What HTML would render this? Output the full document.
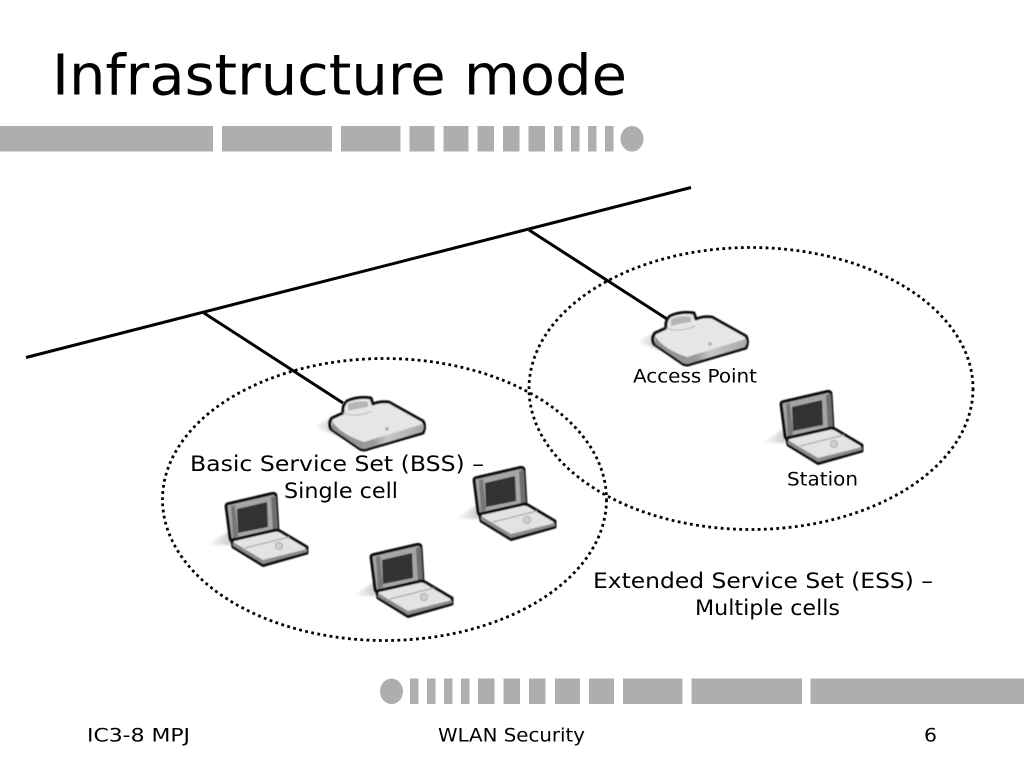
<!DOCTYPE html>
<html><head><meta charset="utf-8"><style>
html,body{margin:0;padding:0;background:#fff;width:1024px;height:768px;overflow:hidden}
svg{display:block}
text{font-family:"DejaVu Sans","Liberation Sans",sans-serif;fill:#000}
</style></head><body>
<svg width="1024" height="768" viewBox="0 0 1024 768" xmlns="http://www.w3.org/2000/svg">
<defs>
<filter id="soft" x="-30%" y="-30%" width="160%" height="160%"><feGaussianBlur stdDeviation="0.45"/></filter>
<filter id="softer" x="-30%" y="-30%" width="160%" height="160%"><feGaussianBlur stdDeviation="1.2"/></filter>
<linearGradient id="sh" x1="0" x2="1" y1="0" y2="0"><stop offset="0" stop-color="#fff"/><stop offset="1" stop-color="#bbb"/></linearGradient>
<linearGradient id="front" x1="0" x2="1" y1="0" y2="0"><stop offset="0" stop-color="#8e8e8e"/><stop offset=".45" stop-color="#9a9a9a"/><stop offset=".6" stop-color="#c8c8c8"/><stop offset="1" stop-color="#a8a8a8"/></linearGradient>
<symbol id="lap" overflow="visible" width="1" height="1">
  <polygon points="-18,53 9,36 14,53" fill="url(#sh)" filter="url(#softer)"/>
  <g filter="url(#soft)">
  <path d="M1 14 Q1 12 4 11.500 L47 1.500 Q51 1 51 4 L53 39 L8 50 Q5 48 5 45 Z" fill="#a6a6a6" stroke="#111" stroke-width="3" stroke-linejoin="round"/>
  <polygon points="46,5 51,4 53,38 48,40" fill="#6e6e6e"/>
  <polygon points="6,14 10,13 13,44 8,47" fill="#777"/>
  <polygon points="12,17 42,10 43,35 13,41" fill="#333"/>
  <path d="M7 48 L51 38 Q53 38 55 39 L82 55 L82 61 L38 73.500 L8 55 Z" fill="#e3e3e3" stroke="#111" stroke-width="3" stroke-linejoin="round"/>
  <polygon points="8,50 38,68 82,57 82,60 38,72 8,54" fill="#8c8c8c"/>
  <path d="M20 56 L64 45" stroke="#aaa" stroke-width="1.2"/>
  <circle cx="54" cy="54" r="3.500" fill="#d0d0d0" stroke="#aaa"/>
  </g>
</symbol>
<symbol id="ap" overflow="visible" width="1" height="1">
  <polygon points="-17,31 4,20 14,42" fill="url(#sh)" filter="url(#softer)"/>
  <g filter="url(#soft)">
  <path d="M1 33 Q-2 27 2 22 L13 17 Q12 9 17 5 Q28 0 41 2 L43 8 Q50 5 59 6 L93 25 Q96 30 93 37 L38 53 Q34 55 30 53 Z" fill="#e6e6e6" stroke="#111" stroke-width="3" stroke-linejoin="round"/>
  <path d="M2 25 Q10 38 34 46 L93 28 Q95 31 92 36 L38 52 Q34 54 30 52 L2 33 Z" fill="url(#front)"/>
  <path d="M18 8 Q28 4 38 6 L38 11 Q28 12 18 15 Z" fill="#b5b5b5"/>
  <path d="M13 17 Q26 22 42 15" stroke="#bbb" stroke-width="1" fill="none"/>
  <circle cx="57" cy="33" r="1.800" fill="#aaa"/>
  </g>
</symbol>
</defs>

<text x="52" y="94.500" font-size="56" textLength="575" lengthAdjust="spacingAndGlyphs">Infrastructure mode</text>

<g fill="#aeaeae">
<rect x="0" y="126" width="213" height="25.500"/>
<rect x="222" y="126" width="110" height="25.500"/>
<rect x="341" y="126" width="59.500" height="25.500"/>
<rect x="409.500" y="126" width="25" height="25.500"/>
<rect x="443.500" y="126" width="25" height="25.500"/>
<rect x="477.500" y="126" width="16.500" height="25.500"/>
<rect x="503" y="126" width="16.500" height="25.500"/>
<rect x="528.500" y="126" width="16.500" height="25.500"/>
<rect x="554" y="126" width="8.500" height="25.500"/>
<rect x="571" y="126" width="8.500" height="25.500"/>
<rect x="588" y="126" width="8.500" height="25.500"/>
<rect x="605" y="126" width="8.500" height="25.500"/>
<ellipse cx="632" cy="138.800" rx="11.500" ry="12.800"/>

<ellipse cx="391.500" cy="691.300" rx="11.500" ry="12.800"/>
<rect x="410" y="678.500" width="8.500" height="25.500"/>
<rect x="427" y="678.500" width="8.500" height="25.500"/>
<rect x="444" y="678.500" width="8.500" height="25.500"/>
<rect x="461" y="678.500" width="8.500" height="25.500"/>
<rect x="478" y="678.500" width="16.500" height="25.500"/>
<rect x="503.500" y="678.500" width="16.500" height="25.500"/>
<rect x="529" y="678.500" width="16.500" height="25.500"/>
<rect x="555" y="678.500" width="25" height="25.500"/>
<rect x="589" y="678.500" width="25" height="25.500"/>
<rect x="623" y="678.500" width="59.500" height="25.500"/>
<rect x="691.500" y="678.500" width="110.500" height="25.500"/>
<rect x="810.500" y="678.500" width="213.500" height="25.500"/>
</g>

<g stroke="#000" stroke-width="3" fill="none">
<line x1="26" y1="357.500" x2="691" y2="187.500"/>
<line x1="204" y1="313" x2="343" y2="403"/>
<line x1="529" y1="230" x2="667" y2="319"/>
</g>
<g fill="none" stroke="#000" stroke-width="2.800" stroke-dasharray="2.800 3.400">
<ellipse cx="384.500" cy="499.500" rx="222" ry="141"/>
<ellipse cx="751" cy="388.500" rx="222" ry="141"/>
</g>

<use href="#ap" x="653" y="311"/>
<use href="#ap" x="330" y="396"/>
<use href="#lap" x="780" y="390"/>
<use href="#lap" x="225" y="492"/>
<use href="#lap" x="473" y="466"/>
<use href="#lap" x="370" y="543"/>

<text x="633" y="382.500" font-size="18.500" textLength="124" lengthAdjust="spacingAndGlyphs">Access Point</text>
<text x="787" y="485.500" font-size="18.500" textLength="71" lengthAdjust="spacingAndGlyphs">Station</text>
<text x="190" y="471" font-size="21.500" textLength="294" lengthAdjust="spacingAndGlyphs">Basic Service Set (BSS) –</text>
<text x="284" y="498" font-size="21.500" textLength="114" lengthAdjust="spacingAndGlyphs">Single cell</text>
<text x="593" y="588" font-size="21.500" textLength="340" lengthAdjust="spacingAndGlyphs">Extended Service Set (ESS) –</text>
<text x="695" y="615" font-size="21.500" textLength="145" lengthAdjust="spacingAndGlyphs">Multiple cells</text>
<text x="87" y="741.500" font-size="19" textLength="103" lengthAdjust="spacingAndGlyphs">IC3-8 MPJ</text>
<text x="438" y="741.500" font-size="19" textLength="147" lengthAdjust="spacingAndGlyphs">WLAN Security</text>
<text x="924" y="741.500" font-size="19" textLength="13" lengthAdjust="spacingAndGlyphs">6</text>
</svg>
</body></html>
